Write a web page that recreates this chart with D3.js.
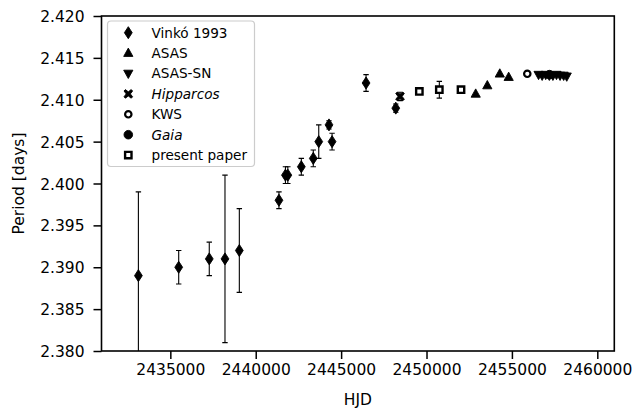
<!DOCTYPE html>
<html>
<head>
<meta charset="utf-8">
<script src="https://cdn.jsdelivr.net/npm/d3@7"></script>
<style>
  html, body { margin: 0; padding: 0; background: #fff; }
  svg { display: block; font-family: "DejaVu Sans", sans-serif; }
</style>
</head>
<body>
<svg id="chart" width="633" height="414"></svg>
<script>
// ---- data ----
const vinkoHJD = [2433130, 2435490, 2437280, 2438200, 2439040, 2441360, 2441740, 2441880, 2442670, 2443370, 2443690, 2444290, 2444470, 2446460, 2448200];
const vinkoP   = [2.389, 2.390, 2.391, 2.391, 2.392, 2.398, 2.401, 2.401, 2.402, 2.403, 2.405, 2.407, 2.405, 2.412, 2.409];
const vinkoErr = [0.010, 0.002, 0.002, 0.010, 0.005, 0.001, 0.001, 0.001, 0.001, 0.001, 0.002, 0.0005, 0.001, 0.001, 0.0005];

const asasHJD = [2452880, 2453560, 2454290, 2454810];
const asasP   = [2.4107, 2.4117, 2.4131, 2.4127];

const asassnHJD = [2456560, 2456770, 2456980, 2457190, 2457400, 2457610, 2457820, 2458030, 2458210];
const asassnP   = [2.4130, 2.4129, 2.4130, 2.4129, 2.4129, 2.4130, 2.4129, 2.4129, 2.4128];

const hippHJD = [2448450];
const hippP   = [2.4104];
const hippErr = [0.0005];

const kwsHJD = [2455900];
const kwsP   = [2.4131];

const gaiaHJD = [2457200];
const gaiaP   = [2.4130];

const paperHJD = [2449580, 2450750, 2452020];
const paperP   = [2.4110, 2.4112, 2.4112];
const paperErr = [0.0003, 0.001, 0.0003];

const yTicks = [2.380, 2.385, 2.390, 2.395, 2.400, 2.405, 2.410, 2.415, 2.420];
const xTicks = [2435000, 2440000, 2445000, 2450000, 2455000, 2460000];

const legendLabels = [
  {key: "vinko", text: "Vinkó 1993", italic: false},
  {key: "asas", text: "ASAS", italic: false},
  {key: "asassn", text: "ASAS-SN", italic: false},
  {key: "hipp", text: "Hipparcos", italic: true},
  {key: "kws", text: "KWS", italic: false},
  {key: "gaia", text: "Gaia", italic: true},
  {key: "paper", text: "present paper", italic: false}
];

// ---- layout ----
const svg = d3.select("#chart");
const L = 101.5, R = 614.3, T = 16, B = 351;
const x = d3.scaleLinear().domain([2430970, 2460995]).range([L, R]);
const y = d3.scaleLinear().domain([2.380, 2.420]).range([B, T]);
const FS = 15.5;

// marker path generators (centered at 0,0)
function thinDiamond(p) { p.moveTo(0,-6); p.lineTo(3.9,0); p.lineTo(0,6); p.lineTo(-3.9,0); p.closePath(); return p; }
function triUp(p) { p.moveTo(0,-5); p.lineTo(4.6,3.3); p.lineTo(-4.6,3.3); p.closePath(); return p; }
function triDown(p) { p.moveTo(0,5); p.lineTo(4.6,-3.3); p.lineTo(-4.6,-3.3); p.closePath(); return p; }
function filledX(p) {
  const a = 4.3, w = 2.3;
  p.moveTo(-a, -a + w * 0.6); p.lineTo(-a + w * 0.6, -a); p.lineTo(0, -w * 0.9);
  p.lineTo(a - w * 0.6, -a); p.lineTo(a, -a + w * 0.6); p.lineTo(w * 0.9, 0);
  p.lineTo(a, a - w * 0.6); p.lineTo(a - w * 0.6, a); p.lineTo(0, w * 0.9);
  p.lineTo(-a + w * 0.6, a); p.lineTo(-a, a - w * 0.6); p.lineTo(-w * 0.9, 0);
  p.closePath();
  return p;
}
const markers = {
  vinko:  {path: () => thinDiamond(d3.path()).toString(), fill: "#000", stroke: "#000", sw: 0.9},
  asas:   {path: () => triUp(d3.path()).toString(), fill: "#000", stroke: "#000", sw: 0.9},
  asassn: {path: () => triDown(d3.path()).toString(), fill: "#000", stroke: "#000", sw: 0.9},
  hipp:   {path: () => filledX(d3.path()).toString(), fill: "#000", stroke: "#000", sw: 0.9},
  kws:    {path: () => { const p = d3.path(); p.arc(0,0,3.2,0,2*Math.PI); return p.toString(); }, fill: "#fff", stroke: "#000", sw: 2.2},
  gaia:   {path: () => { const p = d3.path(); p.arc(0,0,4.3,0,2*Math.PI); return p.toString(); }, fill: "#000", stroke: "#000", sw: 0.9},
  paper:  {path: () => { const p = d3.path(); p.rect(-3.2,-3.2,6.4,6.4); return p.toString(); }, fill: "#fff", stroke: "#000", sw: 2.4}
};

svg.append("defs").append("clipPath").attr("id", "clip")
  .append("rect").attr("x", L).attr("y", T).attr("width", R - L).attr("height", B - T);

const plot = svg.append("g").attr("clip-path", "url(#clip)");

function drawErr(hjd, p, err) {
  const data = hjd.map((h, i) => ({h, p: p[i], e: err[i]}));
  const g = plot.append("g").attr("stroke", "#000").attr("stroke-width", 1.1).attr("fill", "none");
  data.forEach(d => {
    const cx = x(d.h), y1 = y(d.p + d.e), y2 = y(d.p - d.e);
    g.append("line").attr("x1", cx).attr("x2", cx).attr("y1", y1).attr("y2", y2);
    g.append("line").attr("x1", cx - 2.7).attr("x2", cx + 2.7).attr("y1", y1).attr("y2", y1);
    g.append("line").attr("x1", cx - 2.7).attr("x2", cx + 2.7).attr("y1", y2).attr("y2", y2);
  });
}
function drawPts(hjd, p, key) {
  const m = markers[key];
  plot.append("g").selectAll("path").data(hjd.map((h, i) => ({h, p: p[i]}))).join("path")
    .attr("d", m.path())
    .attr("transform", d => `translate(${x(d.h)},${y(d.p)})`)
    .attr("fill", m.fill).attr("stroke", m.stroke).attr("stroke-width", m.sw)
    .attr("stroke-linejoin", "miter");
}

drawErr(vinkoHJD, vinkoP, vinkoErr);
drawPts(vinkoHJD, vinkoP, "vinko");
drawPts(asasHJD, asasP, "asas");
drawPts(gaiaHJD, gaiaP, "gaia");
drawPts(asassnHJD, asassnP, "asassn");
drawErr(hippHJD, hippP, hippErr);
drawPts(hippHJD, hippP, "hipp");
drawPts(kwsHJD, kwsP, "kws");
drawErr(paperHJD, paperP, paperErr);
drawPts(paperHJD, paperP, "paper");

// ---- axes ----
const xAxis = d3.axisBottom(x).tickValues(xTicks).tickFormat(d3.format("d")).tickSize(8).tickPadding(5);
const yAxis = d3.axisLeft(y).tickValues(yTicks).tickFormat(d3.format(".3f")).tickSize(8).tickPadding(9);

const gx = svg.append("g").attr("transform", `translate(0,${B})`).call(xAxis);
const gy = svg.append("g").attr("transform", `translate(${L},0)`).call(yAxis);
[gx, gy].forEach(g => {
  g.select(".domain").remove();
  g.selectAll(".tick line").attr("stroke", "#000").attr("stroke-width", 1.5);
  g.selectAll(".tick text").attr("fill", "#000").style("font-size", FS + "px").style("font-family", "DejaVu Sans");
});
gy.selectAll(".tick text").attr("dy", "0.36em");
gx.selectAll(".tick text").attr("dy", "0.71em");

// frame
svg.append("rect").attr("x", L).attr("y", T).attr("width", R - L).attr("height", B - T)
  .attr("fill", "none").attr("stroke", "#000").attr("stroke-width", 1.6);

// axis labels
svg.append("text").attr("x", (L + R) / 2).attr("y", 405).attr("text-anchor", "middle")
  .style("font-size", FS + "px").text("HJD");
svg.append("text").attr("transform", `translate(23.5,${(T + B) / 2}) rotate(-90)`).attr("text-anchor", "middle")
  .style("font-size", FS + "px").text("Period [days]");

// ---- legend ----
const lg = svg.append("g");
lg.append("rect").attr("x", 107.5).attr("y", 21).attr("width", 147).attr("height", 145.5)
  .attr("rx", 3.5).attr("fill", "#fff").attr("fill-opacity", 0.8).attr("stroke", "#cccccc").attr("stroke-width", 1.2);
legendLabels.forEach((d, i) => {
  const cy = 32.7 + i * 20.4;
  const m = markers[d.key];
  lg.append("path").attr("d", m.path()).attr("transform", `translate(128.3,${cy})`)
    .attr("fill", m.fill).attr("stroke", m.stroke).attr("stroke-width", m.sw);
  lg.append("text").attr("x", 151.5).attr("y", cy).attr("dy", "0.36em")
    .style("font-size", "13.6px").style("font-style", d.italic ? "italic" : "normal").text(d.text);
});
</script>
</body>
</html>
